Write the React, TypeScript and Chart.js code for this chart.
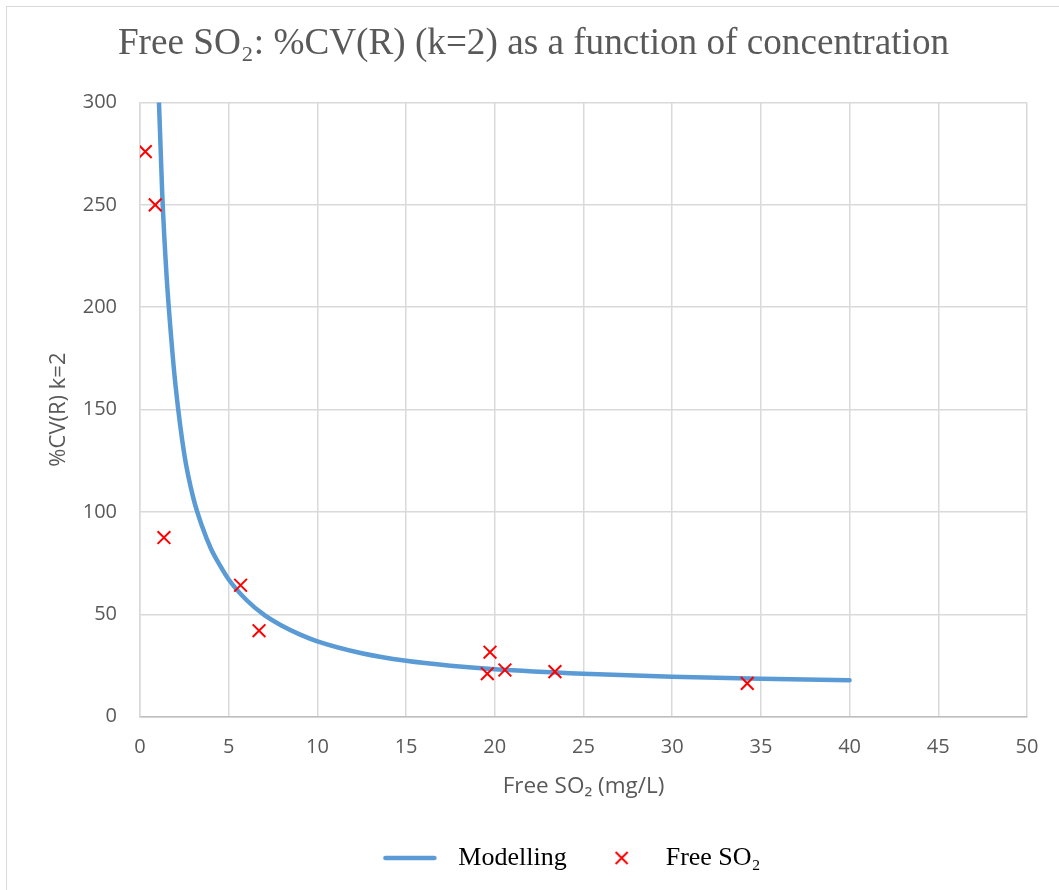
import React, { useEffect, useRef } from 'react';
import { Chart, registerables } from 'chart.js';

Chart.register(...registerables);

// Modelling curve
const modelX = [1.0, 1.25, 1.5, 1.75, 2, 2.5, 3, 3.5, 4, 4.5, 5, 6, 7, 8, 9, 10, 12.5, 15, 17.5, 20, 25, 30, 35, 40];
const modelY = [318, 256, 215, 186, 162, 128, 107, 93, 82, 74, 67, 57, 49.7, 44.4, 40.2, 36.8, 31, 27.3, 24.9, 23.2, 21.0, 19.5, 18.5, 17.8];

// Measured Free SO2 points
const obsX = [0.3, 0.86, 1.35, 5.67, 6.71, 19.73, 19.58, 20.57, 23.39, 34.23];
const obsY = [276, 250, 87.5, 64.2, 42, 31.5, 21, 22.8, 22, 16.3];

const xTicks = [0, 5, 10, 15, 20, 25, 30, 35, 40, 45, 50];
const yTicks = [0, 50, 100, 150, 200, 250, 300];

const seriesNames = ['Modelling', 'Free SO\u2082'];
const chartTitle = 'Free SO\u2082: %CV(R) (k=2) as a function of concentration';
const xTitle = 'Free SO\u2082 (mg/L)';
const yTitle = '%CV(R) k=2';

const LINE_COLOR = '#5b9bd5';
const MARK_COLOR = '#ff0000';
const TEXT_GREY = '#595959';
const GRID = '#d9d9d9';
const SANS = "'Open Sans', 'Noto Sans', sans-serif";
const SERIF = "'Liberation Serif', 'Times New Roman', serif";

export default function App() {
  const ref = useRef<HTMLCanvasElement>(null);

  useEffect(() => {
    if (!ref.current) return;

    // legend sample images
    const lineImg = document.createElement('canvas');
    lineImg.width = 90;
    lineImg.height = 8;
    const lc = lineImg.getContext('2d')!;
    lc.strokeStyle = LINE_COLOR;
    lc.lineWidth = 4.5;
    lc.lineCap = 'round';
    lc.beginPath();
    lc.moveTo(4.5, 4);
    lc.lineTo(53.5, 4);
    lc.stroke();

    const xImg = document.createElement('canvas');
    xImg.width = 40;
    xImg.height = 16;
    const xc = xImg.getContext('2d')!;
    xc.strokeStyle = MARK_COLOR;
    xc.lineWidth = 2;
    xc.beginPath();
    xc.moveTo(8.5 - 6, 8 - 6);
    xc.lineTo(8.5 + 6, 8 + 6);
    xc.moveTo(8.5 + 6, 8 - 6);
    xc.lineTo(8.5 - 6, 8 + 6);
    xc.stroke();

    const chart = new Chart(ref.current, {
      type: 'scatter',
      data: {
        datasets: [
          {
            label: seriesNames[1],
            data: obsX.map((x, i) => ({ x, y: obsY[i] })),
            showLine: false,
            pointStyle: 'crossRot',
            pointRadius: 9,
            pointBorderWidth: 2,
            borderColor: MARK_COLOR,
            backgroundColor: MARK_COLOR,
            order: 0,
          },
          {
            label: seriesNames[0],
            data: modelX.map((x, i) => ({ x, y: modelY[i] })),
            showLine: true,
            pointRadius: 0,
            borderColor: LINE_COLOR,
            backgroundColor: LINE_COLOR,
            borderWidth: 4.5,
            cubicInterpolationMode: 'monotone',
            borderCapStyle: 'round',
            clip: 0,
            order: 1,
          } as any,
        ],
      },
      options: {
        responsive: false,
        animation: false,
        events: [],
        layout: { padding: { left: 40, right: 32, top: 0, bottom: 9 } },
        scales: {
          x: {
            type: 'linear',
            min: xTicks[0],
            max: xTicks[xTicks.length - 1],
            afterBuildTicks: (s: any) => {
              s.ticks = xTicks.map((v) => ({ value: v }));
            },
            afterFit: (s: any) => {
              s.height = 81.3;
            },
            grid: { color: GRID, lineWidth: 1.5, drawTicks: false },
            border: { color: '#bfbfbf', width: 1.5 },
            ticks: { color: TEXT_GREY, font: { family: SANS, size: 20 }, padding: 18.5, maxRotation: 0 },
            title: {
              display: true,
              text: xTitle,
              color: TEXT_GREY,
              font: { family: SANS, size: 22.5 },
              padding: { top: 0, bottom: -2 },
            },
          },
          y: {
            type: 'linear',
            min: yTicks[0],
            max: yTicks[yTicks.length - 1],
            afterBuildTicks: (s: any) => {
              s.ticks = yTicks.map((v) => ({ value: v }));
            },
            afterFit: (s: any) => {
              s.width = 100;
            },
            grid: { color: GRID, lineWidth: 1.5, drawTicks: false },
            border: { color: GRID, width: 1.5 },
            ticks: { color: TEXT_GREY, font: { family: SANS, size: 20 }, padding: 23 },
            title: {
              display: true,
              text: yTitle,
              color: TEXT_GREY,
              font: { family: SANS, size: 22 },
              padding: { top: 5.3, bottom: 0 },
            },
          },
        },
        plugins: {
          tooltip: { enabled: false },
          title: {
            display: true,
            text: chartTitle,
            color: TEXT_GREY,
            font: { family: SERIF, size: 37.2, weight: 'normal' },
            padding: { top: 22.2, bottom: 35.6 },
          },
          legend: {
            display: true,
            position: 'bottom',
            fullSize: false,
            labels: {
              usePointStyle: true,
              pointStyleWidth: 39,
              padding: 47,
              color: '#000000',
              font: { family: SERIF, size: 26 },
              generateLabels: () => [
                {
                  text: seriesNames[0],
                  pointStyle: lineImg as any,
                  fillStyle: LINE_COLOR,
                  strokeStyle: LINE_COLOR,
                  lineWidth: 0,
                  hidden: false,
                  datasetIndex: 1,
                  rotation: 0,
                  fontColor: '#000000',
                },
                {
                  text: seriesNames[1],
                  pointStyle: xImg as any,
                  fillStyle: MARK_COLOR,
                  strokeStyle: MARK_COLOR,
                  lineWidth: 0,
                  hidden: false,
                  datasetIndex: 0,
                  rotation: 0,
                  fontColor: '#000000',
                },
              ],
            },
          },
        },
      },
    });

    return () => chart.destroy();
  }, []);

  return (
    <div style={{ position: 'fixed', left: 0, top: 0, width: 1059, height: 890, background: '#ffffff', overflow: 'hidden' }}>
      <div
        style={{
          position: 'absolute',
          left: 6,
          top: 6,
          width: 1060,
          height: 890,
          borderLeft: '1px solid #d9d9d9',
          borderTop: '1px solid #d9d9d9',
        }}
      />
      <canvas ref={ref} width={1059} height={890} style={{ position: 'absolute', left: 0, top: 0, width: 1059, height: 890 }} />
    </div>
  );
}
